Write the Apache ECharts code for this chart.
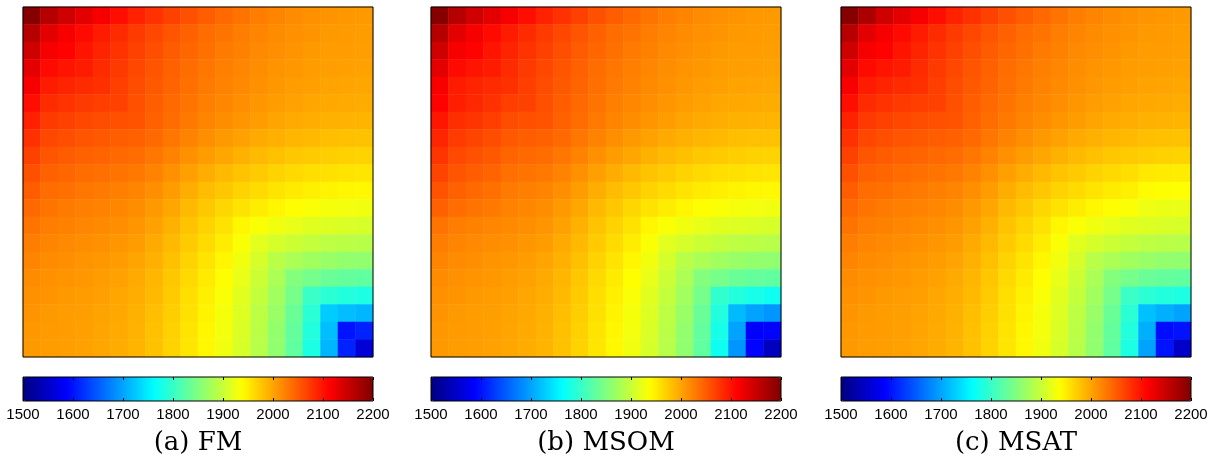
<!DOCTYPE html>
<html><head><meta charset="utf-8">
<script src="https://cdn.jsdelivr.net/npm/echarts@6/dist/echarts.min.js"></script>
<style>html,body{margin:0;padding:0;background:#fff}#c{width:1222px;height:465px}</style>
</head><body><div id="c"></div>
<script>
// ---- data ----
const panelNames = ['(a) FM', '(b) MSOM', '(c) MSAT'];
const colorbarTicks = [1500, 1600, 1700, 1800, 1900, 2000, 2100, 2200];
const jetColors = ['#000080','#0000ff','#0080ff','#00ffff','#80ff80','#ffff00','#ff8000','#ff0000','#800000'];

// rows top -> bottom, columns left -> right
const fmRows = [
[2195,2163,2146,2131,2117,2103,2090,2079,2068,2058,2049,2041,2033,2027,2022,2017,2014,2011,2009,2008],
[2163,2132,2119,2106,2094,2083,2073,2064,2055,2047,2039,2033,2027,2022,2017,2013,2011,2008,2007,2006],
[2146,2119,2111,2099,2088,2078,2068,2059,2050,2043,2036,2029,2024,2019,2015,2011,2008,2006,2005,2004],
[2131,2106,2099,2094,2083,2073,2064,2055,2047,2039,2032,2026,2021,2016,2012,2009,2006,2004,2003,2002],
[2117,2094,2088,2083,2080,2070,2060,2052,2044,2036,2029,2023,2018,2013,2009,2006,2003,2001,2000,1999],
[2103,2083,2078,2073,2070,2068,2058,2049,2041,2033,2026,2020,2015,2010,2006,2002,1999,1997,1996,1995],
[2090,2073,2068,2064,2060,2058,2056,2046,2038,2030,2022,2016,2010,2005,2000,1996,1993,1991,1990,1989],
[2079,2064,2059,2055,2052,2049,2046,2041,2032,2023,2015,2008,2002,1996,1992,1988,1985,1982,1981,1980],
[2068,2055,2050,2047,2044,2041,2038,2032,2023,2014,2006,1998,1991,1986,1981,1976,1973,1971,1969,1968],
[2058,2047,2043,2039,2036,2033,2030,2023,2014,2003,1994,1986,1979,1973,1968,1964,1960,1958,1956,1955],
[2049,2039,2036,2032,2029,2026,2022,2015,2006,1994,1984,1976,1968,1962,1956,1951,1948,1945,1943,1942],
[2041,2033,2029,2026,2023,2020,2016,2008,1998,1986,1976,1965,1957,1950,1944,1938,1934,1931,1929,1928],
[2033,2027,2024,2021,2018,2015,2010,2002,1991,1979,1968,1957,1943,1935,1928,1922,1917,1914,1911,1910],
[2027,2022,2019,2016,2013,2010,2005,1996,1986,1973,1962,1950,1935,1918,1909,1902,1897,1892,1890,1888],
[2022,2017,2015,2012,2009,2006,2000,1992,1981,1968,1956,1944,1928,1909,1889,1880,1873,1868,1864,1862],
[2017,2013,2011,2009,2006,2002,1996,1988,1976,1964,1951,1938,1922,1902,1880,1852,1843,1835,1831,1828],
[2014,2011,2008,2006,2003,1999,1993,1985,1973,1960,1948,1934,1917,1897,1873,1843,1802,1792,1786,1782],
[2011,2008,2006,2004,2001,1997,1991,1982,1971,1958,1945,1931,1914,1892,1868,1835,1792,1728,1718,1713],
[2009,2007,2005,2003,2000,1996,1990,1981,1969,1956,1943,1929,1911,1890,1864,1831,1786,1718,1600,1611],
[2008,2006,2004,2002,1999,1995,1989,1980,1968,1955,1942,1928,1910,1888,1862,1828,1782,1713,1611,1560]
];
const msomRows = [
[2195,2163,2146,2131,2117,2103,2090,2079,2068,2058,2049,2041,2033,2027,2022,2017,2014,2011,2009,2008],
[2163,2132,2119,2106,2094,2083,2073,2064,2055,2047,2039,2033,2027,2022,2017,2013,2011,2008,2007,2006],
[2146,2119,2111,2099,2088,2078,2068,2059,2050,2043,2036,2029,2024,2019,2015,2011,2008,2006,2005,2004],
[2131,2106,2099,2094,2083,2073,2064,2055,2047,2039,2032,2026,2021,2016,2012,2009,2006,2004,2003,2002],
[2117,2094,2088,2083,2080,2070,2060,2052,2044,2036,2029,2023,2018,2013,2009,2006,2003,2001,2000,1999],
[2111,2091,2086,2079,2070,2068,2058,2049,2041,2033,2026,2020,2015,2010,2006,2002,1999,1997,1996,1995],
[2098,2081,2076,2070,2060,2058,2056,2046,2038,2030,2022,2016,2010,2005,2000,1996,1993,1991,1990,1989],
[2087,2072,2066,2060,2052,2049,2046,2041,2032,2023,2015,2008,2002,1996,1992,1988,1985,1982,1981,1980],
[2076,2063,2057,2052,2044,2041,2038,2032,2023,2014,2006,1998,1991,1986,1981,1976,1973,1971,1969,1968],
[2066,2055,2049,2044,2036,2033,2030,2023,2014,2003,1994,1986,1979,1973,1968,1964,1960,1958,1956,1955],
[2056,2046,2041,2036,2029,2026,2022,2015,2006,1994,1984,1976,1968,1962,1956,1951,1948,1945,1943,1942],
[2047,2039,2034,2030,2023,2020,2016,2008,1998,1986,1976,1965,1957,1950,1944,1938,1934,1931,1929,1928],
[2033,2027,2024,2021,2018,2015,2010,2002,1991,1979,1968,1957,1943,1935,1928,1922,1917,1914,1911,1910],
[2027,2022,2019,2016,2013,2010,2005,1996,1986,1973,1962,1950,1935,1918,1909,1902,1897,1892,1890,1888],
[2022,2017,2015,2012,2009,2006,2000,1992,1981,1968,1956,1944,1928,1909,1889,1880,1873,1868,1864,1862],
[2017,2013,2011,2009,2006,2002,1996,1988,1976,1964,1951,1938,1922,1902,1880,1852,1843,1835,1831,1828],
[2014,2011,2008,2006,2003,1999,1993,1985,1973,1960,1948,1934,1917,1897,1873,1843,1796,1786,1778,1772],
[2011,2008,2006,2004,2001,1997,1991,1982,1971,1958,1945,1931,1914,1892,1868,1835,1785,1715,1700,1690],
[2009,2007,2005,2003,2000,1996,1990,1981,1969,1956,1943,1929,1911,1890,1864,1831,1778,1700,1585,1590],
[2008,2006,2004,2002,1999,1995,1989,1980,1968,1955,1942,1928,1910,1888,1862,1828,1772,1690,1590,1545]
];
const msatRows = [
[2195,2170,2146,2131,2117,2103,2090,2079,2068,2058,2049,2041,2033,2027,2022,2017,2014,2011,2009,2008],
[2163,2132,2119,2106,2094,2083,2073,2064,2055,2047,2039,2033,2027,2022,2017,2013,2011,2008,2007,2006],
[2146,2119,2111,2099,2088,2078,2068,2059,2050,2043,2036,2029,2024,2019,2015,2011,2008,2006,2005,2004],
[2131,2106,2099,2094,2083,2073,2064,2055,2047,2039,2032,2026,2021,2016,2012,2009,2006,2004,2003,2002],
[2117,2094,2088,2083,2080,2070,2060,2052,2044,2036,2029,2023,2018,2013,2009,2006,2003,2001,2000,1999],
[2103,2083,2078,2073,2070,2068,2058,2049,2041,2033,2026,2020,2015,2010,2006,2002,1999,1997,1996,1995],
[2090,2073,2068,2064,2060,2058,2056,2046,2038,2030,2022,2016,2010,2005,2000,1996,1993,1991,1990,1989],
[2079,2064,2059,2055,2052,2049,2046,2041,2032,2023,2015,2008,2002,1996,1992,1988,1985,1982,1981,1980],
[2068,2055,2050,2047,2044,2041,2038,2032,2023,2014,2006,1998,1991,1986,1981,1976,1973,1971,1969,1968],
[2058,2047,2043,2039,2036,2033,2030,2023,2014,2003,1994,1986,1979,1973,1968,1964,1960,1953,1951,1950],
[2049,2039,2036,2032,2029,2026,2022,2015,2006,1994,1984,1976,1968,1962,1956,1951,1948,1940,1938,1937],
[2041,2033,2029,2026,2023,2020,2016,2008,1998,1986,1976,1965,1957,1950,1944,1938,1934,1926,1924,1923],
[2033,2027,2024,2021,2018,2015,2010,2002,1991,1979,1968,1957,1943,1935,1928,1922,1917,1914,1911,1910],
[2027,2022,2019,2016,2013,2010,2005,1996,1986,1973,1962,1950,1935,1918,1909,1902,1897,1892,1890,1888],
[2022,2017,2015,2012,2009,2006,2000,1992,1981,1968,1956,1944,1928,1909,1889,1880,1873,1868,1864,1862],
[2017,2013,2011,2009,2006,2002,1996,1988,1976,1964,1951,1938,1922,1902,1880,1852,1843,1835,1831,1828],
[2014,2011,2008,2006,2003,1999,1993,1985,1973,1960,1948,1934,1917,1897,1873,1843,1802,1792,1786,1782],
[2011,2008,2006,2004,2001,1997,1991,1982,1971,1958,1945,1931,1914,1892,1868,1835,1792,1720,1708,1700],
[2009,2007,2005,2003,2000,1996,1990,1981,1969,1956,1943,1929,1911,1890,1864,1831,1786,1708,1595,1600],
[2008,2006,2004,2002,1999,1995,1989,1980,1968,1955,1942,1928,1910,1888,1862,1828,1782,1700,1600,1550]
];
const panelRows = [fmRows, msomRows, msatRows];

// ---- layout ----
const panelLeft = [23, 431, 841];
const plotTop = 7, plotSize = 350;
const barTop = 377, barHeight = 24;

const vMin = colorbarTicks[0], vMax = colorbarTicks[colorbarTicks.length - 1];
const vStep = colorbarTicks[1] - colorbarTicks[0];

const chart = echarts.init(document.getElementById('c'), null, {renderer: 'canvas'});

const grid = [], xAxis = [], yAxis = [], series = [], visualMap = [], graphic = [];
panelRows.forEach((rows, p) => {
  const L = panelLeft[p];
  grid.push({left: L, top: plotTop, width: plotSize, height: plotSize, show: true,
    borderColor: '#000', borderWidth: 1, backgroundColor: 'transparent', z: 10});
  grid.push({left: L, top: barTop, width: plotSize, height: barHeight, show: true,
    borderColor: '#000', borderWidth: 1, backgroundColor: 'transparent', z: 10});
  xAxis.push({gridIndex: 2 * p, type: 'category', data: rows[0].map((_, i) => i), show: false});
  const cbAxis = (pos, labels) => ({
    gridIndex: 2 * p + 1, type: 'value', min: vMin, max: vMax, interval: vStep, position: pos, z: 10,
    axisLine: {show: false}, splitLine: {show: false},
    axisTick: {show: true, inside: true, length: 3, lineStyle: {color: '#000', width: 1}},
    axisLabel: {show: labels, color: '#000', fontSize: 15, fontFamily: 'Liberation Sans, Arial, sans-serif',
      margin: 6, formatter: v => String(v)}
  });
  xAxis.push(cbAxis('bottom', true));
  xAxis.push(cbAxis('top', false));
  yAxis.push({gridIndex: 2 * p, type: 'category', data: rows.map((_, j) => j), inverse: true, show: false});
  yAxis.push({gridIndex: 2 * p + 1, type: 'value', show: false});
  const data = [];
  rows.forEach((row, j) => row.forEach((v, i) => data.push([i, j, v])));
  series.push({type: 'heatmap', xAxisIndex: 3 * p, yAxisIndex: 2 * p, data,
    emphasis: {disabled: true}, progressive: 0, itemStyle: {borderWidth: 0}});
  visualMap.push({type: 'continuous', seriesIndex: p, min: vMin, max: vMax, orient: 'horizontal',
    left: L, top: barTop, itemWidth: barHeight, itemHeight: plotSize, padding: 0,
    calculable: false, hoverLink: false, inRange: {color: jetColors}, textStyle: {color: 'transparent'}});
  graphic.push({type: 'text', x: L + plotSize / 2, y: 443,
    style: {text: panelNames[p], align: 'center', verticalAlign: 'middle',
      font: '26px "DejaVu Serif", serif', fill: '#000'}});
});

chart.setOption({animation: false, backgroundColor: '#fff', grid, xAxis, yAxis, series, visualMap, graphic});
</script>
</body></html>
